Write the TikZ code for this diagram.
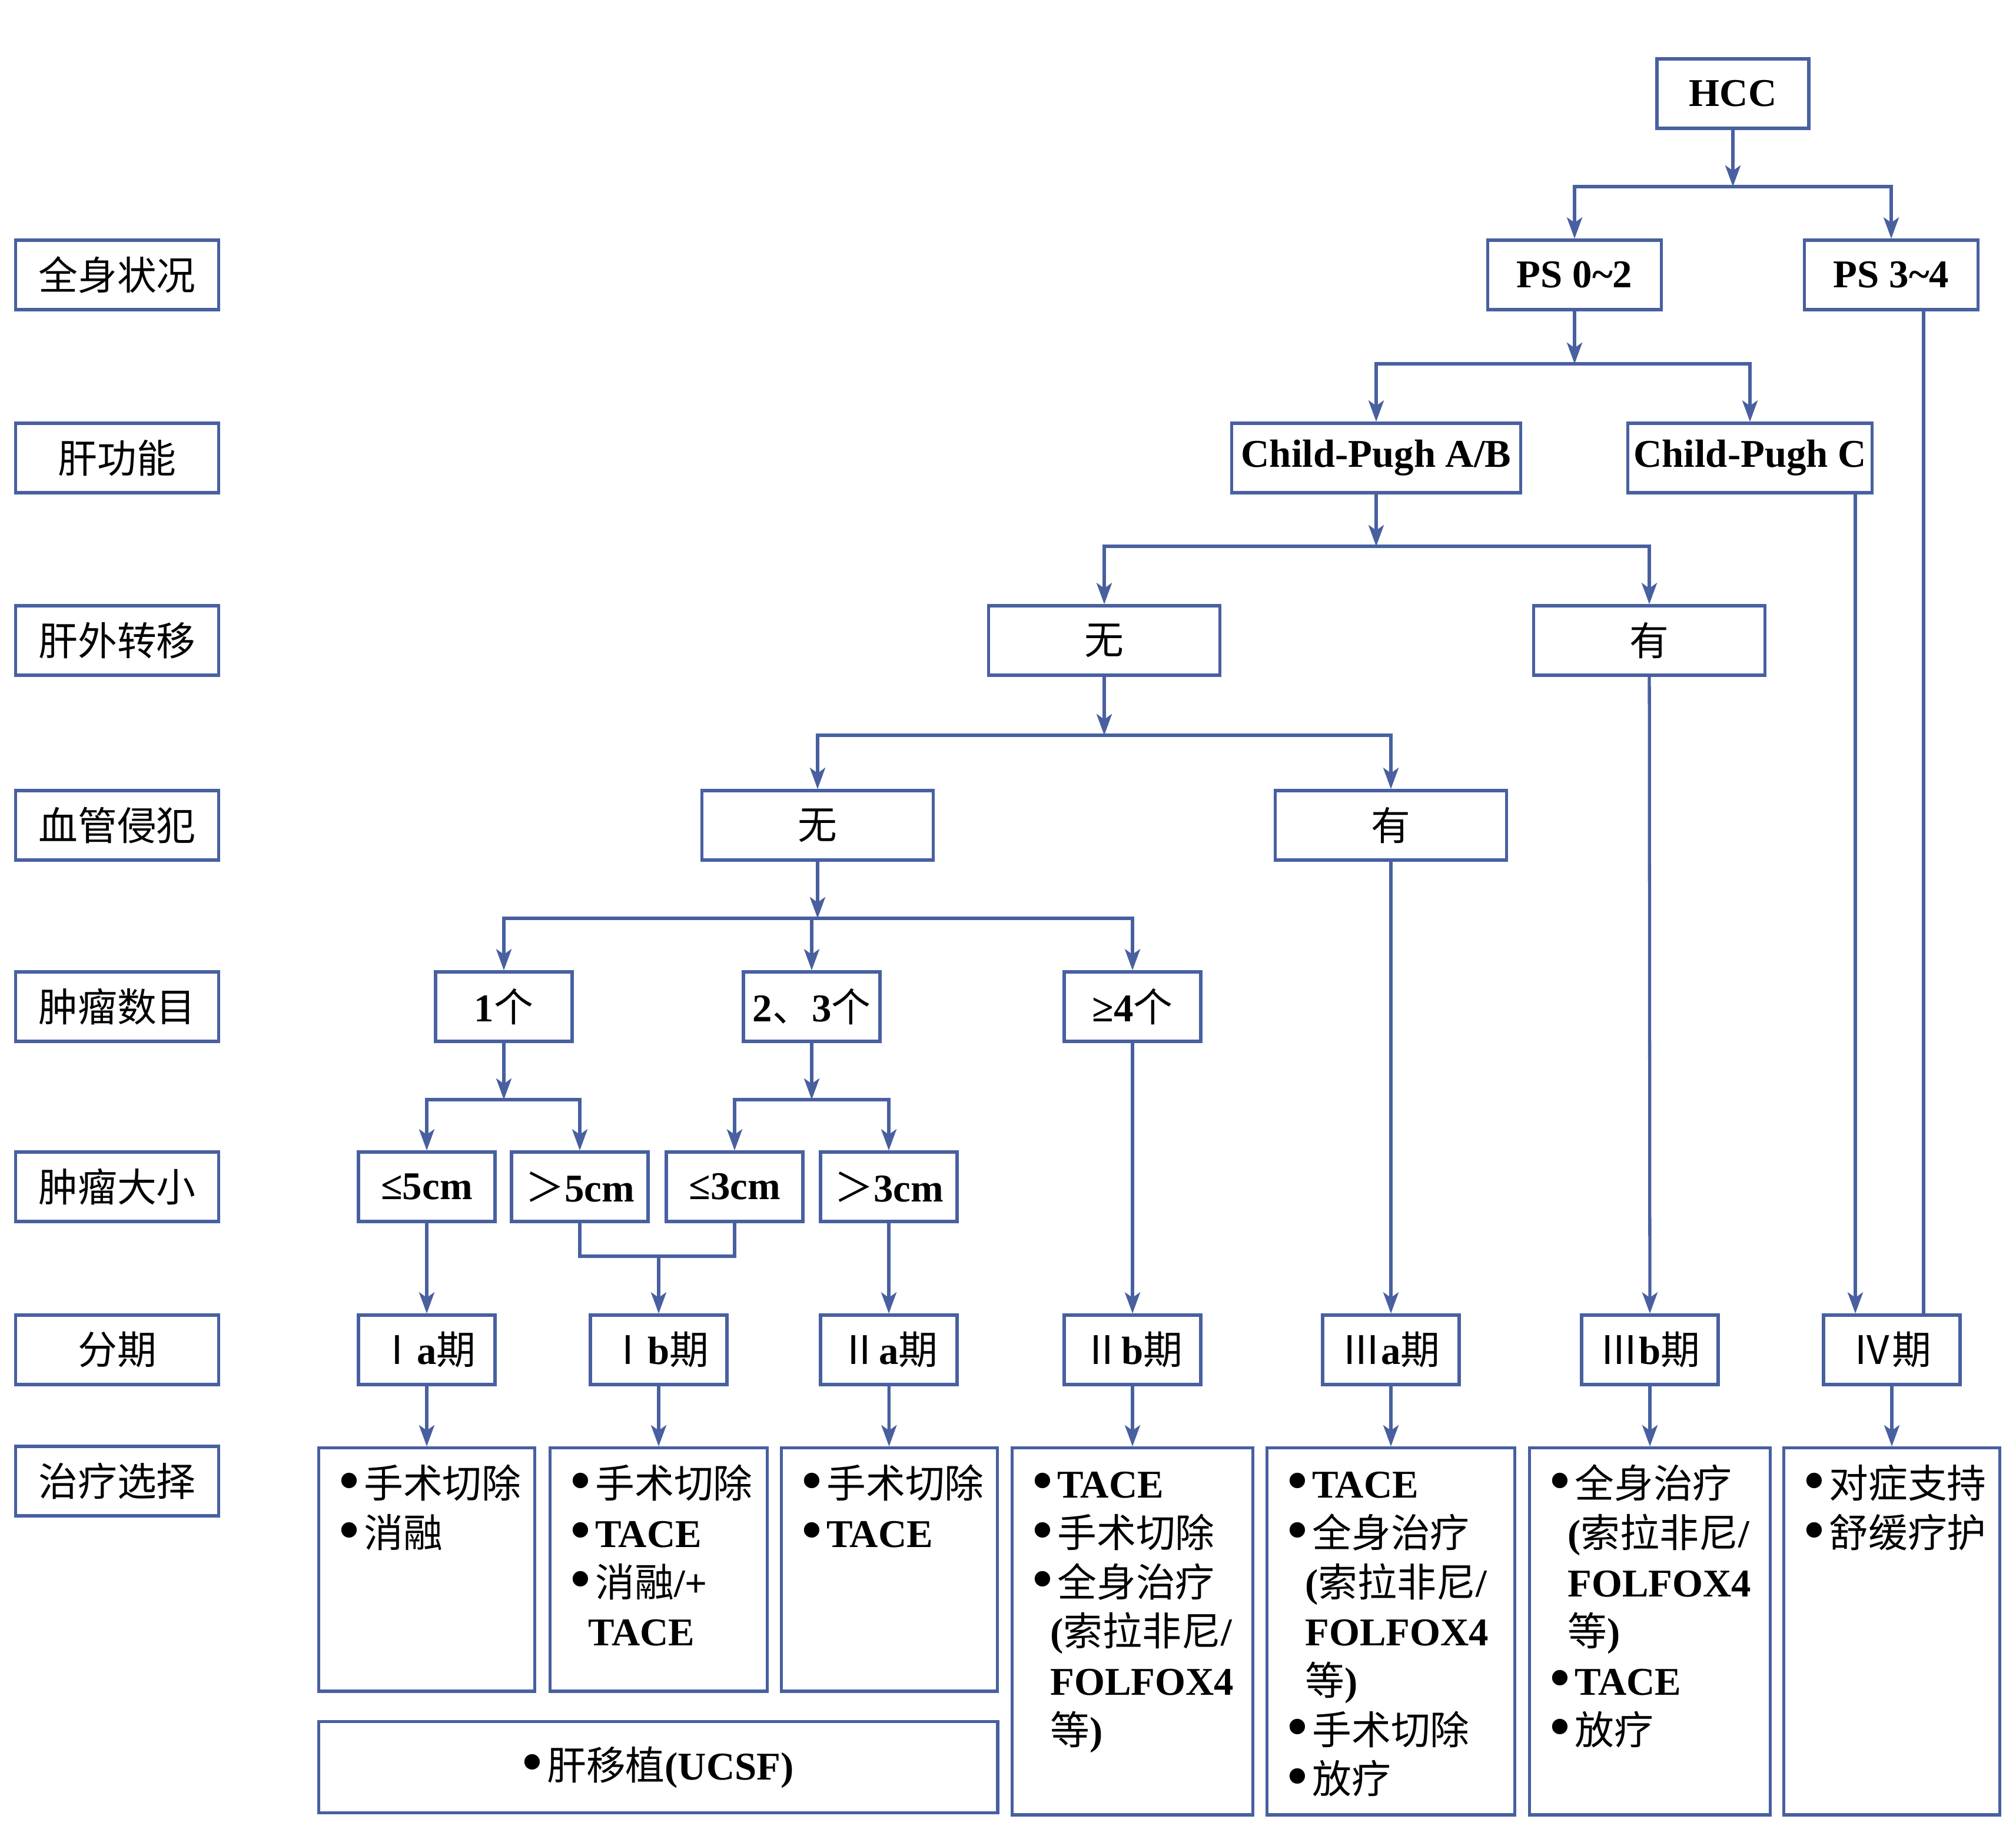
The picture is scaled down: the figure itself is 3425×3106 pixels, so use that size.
\documentclass[tikz,border=0pt]{standalone}
\usepackage{fontspec}
\setmainfont{Liberation Serif}
\newfontfamily\cjk{Noto Sans CJK SC}
\usetikzlibrary{arrows.meta}

\definecolor{flowblue}{RGB}{72,96,160}
\newcommand\zh[1]{{\cjk\mdseries #1}}
\newcommand\bul{\smash{\raisebox{-0.04em}{\scalebox{1.45}{\textbullet}}}\kern0.12em}
\newcommand\nobul{\hspace*{0.45em}}

\begin{document}
\begin{tikzpicture}[
            x = 0.01cm, y = -0.01cm, % one unit per pixel, y downwards
            > = {Stealth[length=0.36cm, width=0.26cm, inset=0.09cm]}, % arrow head style
            line width = 1.5pt, % line style
            color = flowblue
        ]

        \tikzstyle{every node}=[
            font = \fontsize{19}{23.8}\selectfont\bfseries,
            text = black
        ]
        \tikzstyle{box}=[draw, rectangle, minimum height = 1.18cm, inner sep = 0pt]
        \tikzstyle{lbl}=[box, minimum width = 3.45cm]
        \tikzstyle{mid}=[box, minimum width = 3.93cm]
        \tikzstyle{small}=[box, minimum width = 2.32cm]
        \tikzstyle{treat}=[
            draw, rectangle, align = left, anchor = north,
            inner xsep = 0.35cm, inner ysep = 0.25cm,
            text height = 0.6cm
        ]

        \useasboundingbox (0,0) rectangle (3425,3106);

        % row labels
        \node[lbl] (l1) at (199,467) {\zh{全身状况}};
        \node[lbl] (l2) at (199,778) {\zh{肝功能}};
        \node[lbl] (l3) at (199,1088) {\zh{肝外转移}};
        \node[lbl] (l4) at (199,1402) {\zh{血管侵犯}};
        \node[lbl] (l5) at (199,1710) {\zh{肿瘤数目}};
        \node[lbl] (l6) at (199,2016) {\zh{肿瘤大小}};
        \node[lbl] (l7) at (199,2293) {\zh{分期}};
        \node[lbl] (l8) at (199,2516) {\zh{治疗选择}};

        % decision tree
        \node[box, minimum width = 2.58cm] (hcc) at (2944,159) {HCC};
        \node[box, minimum width = 2.95cm] (ps02) at (2675,467) {PS 0\textasciitilde 2};
        \node[box, minimum width = 2.95cm] (ps34) at (3213,467) {PS 3\textasciitilde 4};
        \node[box, minimum width = 4.91cm] (cpab) at (2338,778) {Child-Pugh A/B};
        \node[box, minimum width = 4.15cm] (cpc) at (2973,778) {Child-Pugh C};
        \node[mid] (mets0) at (1876,1088) {\zh{无}};
        \node[mid] (mets1) at (2802,1088) {\zh{有}};
        \node[mid] (vasc0) at (1389,1402) {\zh{无}};
        \node[mid] (vasc1) at (2363,1402) {\zh{有}};
        \node[small] (n1) at (856,1710) {1\zh{个}};
        \node[small] (n23) at (1379,1710) {2\zh{、}3\zh{个}};
        \node[small] (n4) at (1924,1710) {≥4\zh{个}};
        \node[small] (le5) at (725,2016) {≤5cm};
        \node[small] (gt5) at (985,2016) {\zh{＞}5cm};
        \node[small] (le3) at (1248,2016) {≤3cm};
        \node[small] (gt3) at (1510,2016) {\zh{＞}3cm};

        % stages
        \node[small] (s1a) at (725,2293) {\zh{Ⅰ}a\zh{期}};
        \node[small] (s1b) at (1119,2293) {\zh{Ⅰ}b\zh{期}};
        \node[small] (s2a) at (1510,2293) {\zh{Ⅱ}a\zh{期}};
        \node[small] (s2b) at (1924,2293) {\zh{Ⅱ}b\zh{期}};
        \node[small] (s3a) at (2363,2293) {\zh{Ⅲ}a\zh{期}};
        \node[small] (s3b) at (2803,2293) {\zh{Ⅲ}b\zh{期}};
        \node[small] (s4) at (3214,2293) {\zh{Ⅳ期}};

        % treatments
        \node[treat, text width = 2.97cm, text depth = 3.03cm] (t1a) at (725,2457)
            {\bul\zh{手术切除}\\\bul\zh{消融}};
        \node[treat, text width = 2.99cm, text depth = 3.03cm] (t1b) at (1119,2457)
            {\bul\zh{手术切除}\\\bul TACE\\\bul\zh{消融}/+\\\nobul TACE};
        \node[treat, text width = 2.97cm, text depth = 3.03cm] (t2a) at (1511,2457)
            {\bul\zh{手术切除}\\\bul TACE};
        \node[treat, text width = 3.39cm, text depth = 5.13cm] (t2b) at (1924,2457)
            {\bul TACE\\\bul\zh{手术切除}\\\bul\zh{全身治疗}\\\nobul(\zh{索拉非尼}/\\\nobul\mbox{FOLFOX4}\\\nobul\zh{等})};
        \node[treat, text width = 3.51cm, text depth = 5.13cm] (t3a) at (2363,2457)
            {\bul TACE\\\bul\zh{全身治疗}\\\nobul(\zh{索拉非尼}/\\\nobul\mbox{FOLFOX4}\\\nobul\zh{等})\\\bul\zh{手术切除}\\\bul\zh{放疗}};
        \node[treat, text width = 3.39cm, text depth = 5.13cm] (t3b) at (2803,2457)
            {\bul\zh{全身治疗}\\\nobul(\zh{索拉非尼}/\\\nobul\mbox{FOLFOX4}\\\nobul\zh{等})\\\bul TACE\\\bul\zh{放疗}};
        \node[treat, text width = 2.97cm, text depth = 5.13cm] (t4) at (3214,2457)
            {\bul\zh{对症支持}\\\bul\zh{舒缓疗护}};
        \node[box, minimum width = 11.53cm, minimum height = 1.55cm] (ltx) at (1118,3002)
            {\bul\zh{肝移植}(UCSF)};

        % junctions
        \coordinate (j0) at (2944,317);
        \coordinate (j1) at (2675,618);
        \coordinate (j2) at (2338,928);
        \coordinate (j3) at (1876,1249);
        \coordinate (j4) at (1389,1560);
        \coordinate (j5) at (856,1868);
        \coordinate (j6) at (1379,1868);
        \coordinate (jm) at (1119,2134);
        \coordinate (cx) at (3152,0);
        \coordinate (px) at (3268,0);

        \draw[->] (hcc) -- (j0);
        \draw[->] (j0) -| (ps02);
        \draw[->] (j0) -| (ps34);
        \draw[->] (ps02) -- (j1);
        \draw[->] (j1) -| (cpab);
        \draw[->] (j1) -| (cpc);
        \draw[->] (cpab) -- (j2);
        \draw[->] (j2) -| (mets0);
        \draw[->] (j2) -| (mets1);
        \draw[->] (mets0) -- (j3);
        \draw[->] (j3) -| (vasc0);
        \draw[->] (j3) -| (vasc1);
        \draw[->] (vasc0) -- (j4);
        \draw[->] (j4) -| (n1);
        \draw[->] (j4) -| (n23);
        \draw[->] (j4) -| (n4);
        \draw[->] (n1) -- (j5);
        \draw[->] (j5) -| (le5);
        \draw[->] (j5) -| (gt5);
        \draw[->] (n23) -- (j6);
        \draw[->] (j6) -| (le3);
        \draw[->] (j6) -| (gt3);

        \draw (gt5) |- (jm) -| (le3);
        \draw[->] (jm) -- (s1b);
        \draw[->] (le5) -- (s1a);
        \draw[->] (gt3) -- (s2a);
        \draw[->] (n4) -- (s2b);
        \draw[->] (vasc1) -- (s3a);
        \draw[->] (mets1) -- (s3b);
        \draw[->] (cpc.south -| cx) -- (s4.north -| cx);
        \draw (ps34.south -| px) -- (s4.north -| px);

        \foreach \s in {1a,1b,2a,2b,3a,3b,4}
            \draw[->] (s\s) -- (t\s);

  \end{tikzpicture}
\end{document}
